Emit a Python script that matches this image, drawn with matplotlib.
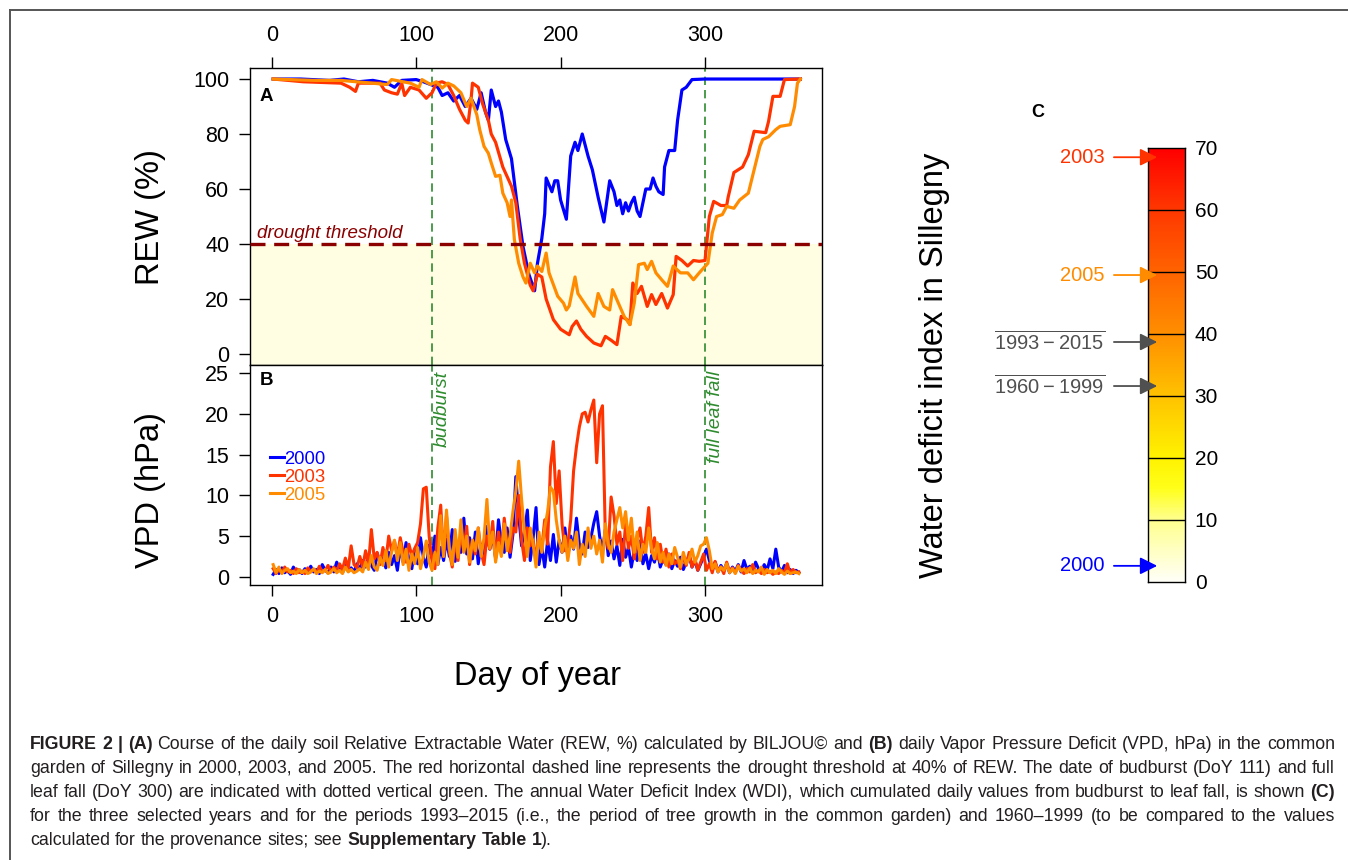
import math
import numpy as np
import matplotlib
matplotlib.use('Agg')
import matplotlib.pyplot as plt
from matplotlib.colors import LinearSegmentedColormap
from matplotlib.font_manager import FontProperties
from matplotlib.lines import Line2D

plt.rcParams['font.family'] = ['Liberation Sans', 'DejaVu Sans']
plt.rcParams['mathtext.fontset'] = 'custom'
plt.rcParams['mathtext.rm'] = 'Liberation Sans'

# ---- data ----
years = ['2000', '2003', '2005']
year_colors = {'2000': '#0000FF', '2003': '#FF3300', '2005': '#FF8C00'}

# soil relative extractable water (REW, %), (day of year, value)
rew_2000 = [(1, 100), (20, 100), (40, 99.5), (50, 100), (60, 99), (70, 99.5), (80, 98.5), (85, 97),
            (90, 99.5), (100, 99.8), (105, 99), (110, 98), (115, 97), (118, 94), (122, 95), (126, 92),
            (130, 94), (134, 90), (138, 93), (142, 89), (145, 95), (148, 88), (150, 85), (152, 96),
            (155, 90), (157, 92), (159, 88), (162, 78), (166, 71), (170, 54), (174, 39), (178, 29),
            (182, 23), (184, 33), (186, 39), (187, 42), (189, 51), (190, 64), (194, 59), (196, 63),
            (198, 63), (200, 56), (204, 49), (207, 72), (210, 77), (212, 74), (215, 80), (219, 72),
            (222, 67), (226, 57), (230, 48), (234, 63), (237, 59), (239, 54), (241, 56), (243, 51),
            (245, 55), (247, 52), (249, 55), (251, 57), (253, 52), (255, 50), (257, 55), (259, 60),
            (262, 60), (264, 64), (266, 61), (268, 59), (271, 58), (272, 68), (275, 74), (279, 74),
            (281, 85), (284, 96), (287, 97), (291, 99.8), (300, 100), (366, 100)]
rew_2003 = [(1, 100), (22, 99), (48, 98.5), (54, 97), (58, 95.5), (60, 98.5), (75, 98.5), (78, 96),
            (83, 95), (87, 94.5), (90, 98.5), (92, 94), (96, 97), (102, 96), (107, 93), (111, 95),
            (114, 98.5), (118, 99), (122, 98), (126, 94), (130, 89), (134, 85), (136, 84), (138, 92.5),
            (139, 98.5), (143, 97), (146, 91), (150, 85), (152, 80), (155, 77), (160, 68), (166, 61),
            (169, 55), (172, 42), (175, 33), (179, 25), (181, 23), (184, 29), (187, 28), (190, 20),
            (195, 12.5), (200, 9), (206, 7), (208, 10), (211, 12), (214, 9), (218, 6.4), (223, 4),
            (228, 3), (231, 6.4), (235, 5), (239, 3.4), (242, 13.7), (246, 12.5), (248, 10.7),
            (250, 25.8), (253, 22), (256, 24.6), (260, 17.3), (263, 21.6), (266, 18), (270, 22),
            (274, 16.7), (278, 21.6), (280, 35.5), (284, 34), (288, 32), (292, 34), (296, 33.7),
            (300, 34), (303, 50), (306, 55.5), (311, 54), (315, 54), (316, 57), (320, 66), (326, 68),
            (330, 72.5), (334, 81), (342, 80.5), (344, 84.6), (347, 93.7), (352, 93.7), (355, 99.8),
            (366, 100)]
rew_2005 = [(1, 100), (30, 99.5), (48, 99.5), (80, 98), (83, 99.8), (96, 98.5), (102, 97), (104, 99.8),
            (110, 98), (114, 99), (118, 96.7), (122, 98.5), (126, 97.5), (131, 95), (135, 90), (138, 93),
            (142, 87), (144, 81.6), (147, 75.5), (150, 73), (152, 69.5), (155, 64.6), (158, 65),
            (160, 58.5), (163, 55), (165, 50), (166, 56), (168, 41.6), (171, 33), (174, 28), (176, 25.8),
            (179, 33), (182, 29.5), (184, 32), (187, 30), (190, 36.7), (192, 29.5), (198, 21), (202, 18.5),
            (204, 16), (206, 17.5), (210, 28), (212, 22), (218, 17.3), (223, 13.7), (226, 22), (230, 17.3),
            (234, 16), (236, 23.4), (240, 18.5), (244, 13.7), (248, 10.7), (251, 18.5), (254, 32.5),
            (258, 33), (260, 30.7), (263, 33.7), (266, 29.5), (270, 27), (274, 24.6), (278, 32),
            (283, 29.5), (288, 29.5), (292, 27), (296, 29.5), (302, 33), (305, 44), (308, 50),
            (312, 50.7), (315, 53.7), (320, 53), (324, 56), (330, 58.5), (334, 67), (338, 75.5),
            (340, 78), (344, 79), (349, 81.6), (352, 82.8), (359, 83.4), (362, 90), (364, 98.5), (366, 100)]
rew = {'2000': rew_2000, '2003': rew_2003, '2005': rew_2005}

# vapour pressure deficit (hPa), one value every second day starting at day 1
vpd_days = list(range(1, 366, 2))
vpd_2000 = [0.3, 0.9, 0.4, 1.1, 0.5, 0.8, 0.3, 1.2, 0.6, 0.9,
            0.4, 1.0, 0.5, 1.3, 0.6, 0.9, 0.4, 1.5, 0.8, 0.5,
            1.2, 0.6, 1.8, 0.9, 0.5, 1.4, 0.7, 1.1, 0.6, 1.6,
            0.9, 2.0, 1.2, 2.6, 1.4, 0.8, 2.9, 1.6, 2.3, 1.1,
            3.0, 1.5, 2.6, 0.8, 3.6, 1.8, 4.2, 2.0, 1.0, 3.3,
            1.6, 4.8, 2.4, 1.2, 3.9, 2.2, 5.0, 1.5, 3.6, 2.0,
            4.6, 2.5, 5.8, 1.9, 4.2, 3.0, 7.2, 2.8, 4.8, 2.2,
            5.5, 1.6, 4.0, 2.6, 6.2, 3.4, 5.0, 2.3, 7.0, 4.2,
            3.0, 6.0, 2.4, 5.2, 12.3, 7.5, 3.8, 5.6, 8.2, 2.0,
            4.8, 8.5, 1.5, 3.6, 1.2, 4.4, 2.0, 5.2, 1.8, 4.5,
            3.0, 6.0, 2.5, 5.0, 3.4, 7.2, 4.0, 2.8, 5.5, 3.6,
            4.8, 6.6, 8.0, 5.0, 3.2, 5.8, 2.6, 4.4, 2.2, 3.8,
            1.4, 4.6, 2.4, 3.6, 1.2, 3.2, 2.0, 4.4, 1.6, 2.8,
            1.0, 2.6, 1.8, 3.4, 1.2, 2.2, 1.5, 2.8, 1.0, 2.0,
            1.3, 2.4, 0.9, 1.8, 2.6, 1.2, 2.0, 0.8, 1.6, 2.5,
            3.4, 2.0, 1.0, 1.8, 0.6, 1.4, 0.8, 1.6, 0.5, 1.2,
            0.7, 1.5, 0.6, 2.0, 0.9, 1.3, 0.5, 1.8, 1.0, 0.6,
            1.5, 0.8, 2.2, 1.0, 3.4, 1.2, 0.6, 1.4, 0.5, 0.9,
            0.4, 0.8, 0.5]
vpd_2003 = [1.0, 0.4, 0.9, 0.5, 1.2, 0.6, 0.8, 0.4, 1.0, 0.5,
            0.7, 0.4, 1.1, 0.6, 0.9, 0.5, 1.3, 0.6, 0.8, 1.4,
            0.6, 1.2, 0.7, 1.6, 0.9, 2.3, 1.0, 3.8, 1.5, 1.1,
            2.5, 1.2, 3.2, 1.6, 5.8, 2.2, 3.0, 1.5, 3.6, 2.0,
            5.0, 3.2, 4.4, 2.5, 4.8, 3.0, 1.8, 4.0, 2.6, 3.5,
            4.2, 6.5, 10.8, 11.0, 5.0, 2.0, 1.0, 6.0, 8.8, 2.5,
            7.5, 3.0, 1.2, 4.8, 2.0, 5.5, 3.2, 6.2, 1.5, 4.5,
            2.8, 6.0, 3.0, 1.5, 5.0, 3.4, 6.8, 2.2, 5.5, 3.0,
            7.2, 4.0, 3.0, 6.0, 5.5, 10.0, 4.5, 2.0, 6.0, 3.8,
            4.5, 2.2, 5.0, 3.5, 7.0, 4.0, 13.5, 16.6, 9.0, 13.0,
            6.5, 3.2, 4.0, 7.0, 13.0, 16.0, 18.4, 20.0, 20.2, 19.0,
            20.5, 21.7, 14.0, 20.0, 21.0, 5.0, 3.5, 9.8, 7.5, 4.0,
            5.5, 2.0, 6.5, 3.5, 5.0, 2.2, 4.5, 6.0, 3.0, 5.0,
            8.5, 3.0, 4.8, 2.2, 4.0, 1.8, 3.4, 1.2, 2.8, 1.6,
            2.0, 1.0, 2.6, 1.4, 3.0, 1.2, 2.2, 0.8, 1.8, 2.8,
            0.8, 1.6, 0.5, 1.9, 0.7, 1.2, 0.4, 1.8, 0.6, 1.1,
            0.5, 1.4, 0.8, 0.4, 1.0, 0.6, 1.5, 0.5, 0.8, 0.4,
            0.9, 0.5, 0.7, 0.3, 0.6, 0.4, 0.8, 0.5, 1.6, 0.4,
            0.9, 0.5, 0.6]
vpd_2005 = [1.5, 0.5, 1.2, 0.4, 0.8, 1.0, 0.5, 0.7, 0.4, 0.9,
            0.5, 0.8, 0.4, 0.6, 1.0, 0.4, 0.7, 0.5, 0.9, 0.4,
            0.6, 1.0, 0.5, 0.8, 0.4, 1.2, 0.6, 0.9, 0.5, 0.7,
            1.0, 0.6, 1.8, 0.9, 2.6, 1.2, 0.8, 2.4, 1.4, 3.2,
            1.2, 3.0, 4.5, 2.0, 4.2, 1.5, 3.4, 0.8, 2.8, 1.6,
            3.6, 1.0, 2.5, 4.4, 1.8, 0.8, 3.0, 1.5, 7.5, 2.5,
            8.2, 3.5, 1.5, 5.8, 2.4, 7.0, 3.0, 5.0, 1.8, 4.5,
            3.2, 6.0, 2.5, 4.8, 9.5, 3.5, 5.5, 1.8, 4.2, 2.5,
            6.5, 3.2, 5.0, 8.0, 10.5, 14.2, 9.5, 5.5, 2.5, 6.0,
            4.0, 1.2, 5.5, 3.0, 6.0, 8.0, 11.0, 10.5, 7.0, 4.5,
            3.0, 5.0, 2.0, 4.5, 3.5, 5.5, 1.5, 4.0, 2.5, 6.0,
            3.5, 5.0, 2.8, 4.5, 1.8, 6.5, 4.0, 3.0, 5.5, 7.0,
            8.5, 6.0, 8.0, 4.5, 7.2, 3.0, 5.5, 2.0, 4.0, 3.0,
            6.0, 3.5, 2.2, 4.2, 1.8, 3.0, 1.4, 2.8, 1.6, 3.6,
            2.4, 1.2, 3.0, 1.6, 2.2, 3.4, 1.8, 2.6, 3.8, 4.0,
            4.8, 3.2, 1.0, 1.6, 0.6, 1.2, 0.8, 1.6, 0.5, 1.0,
            0.4, 1.3, 0.7, 1.0, 0.5, 1.1, 0.4, 0.8, 0.6, 1.2,
            0.3, 0.9, 0.5, 0.8, 0.4, 1.0, 0.6, 0.3, 0.7, 0.4,
            0.5, 0.6, 0.4]
vpd = {'2000': vpd_2000, '2003': vpd_2003, '2005': vpd_2005}

drought_threshold = 40
budburst_doy = 111
leaf_fall_doy = 300

# water deficit index (panel C)
wdi_labels = ['2003', '2005', r'$\overline{\mathrm{1993-2015}}$', r'$\overline{\mathrm{1960-1999}}$', '2000']
wdi_values = [68.5, 49.5, 38.7, 31.6, 2.6]
wdi_colors = ['#FF3300', '#FF8C00', '#505050', '#505050', '#0000FF']
wdi_ticks = [0, 10, 20, 30, 40, 50, 60, 70]

caption = [
    [('FIGURE 2 | (A)', True),
     (' Course of the daily soil Relative Extractable Water (REW, %) calculated by BILJOU\u00a9 and ', False),
     ('(B)', True),
     (' daily Vapor Pressure Deficit (VPD, hPa) in the common', False)],
    [('garden of Sillegny in 2000, 2003, and 2005. The red horizontal dashed line represents the drought '
      'threshold at 40% of REW. The date of budburst (DoY 111) and full', False)],
    [('leaf fall (DoY 300) are indicated with dotted vertical green. The annual Water Deficit Index (WDI), '
      'which cumulated daily values from budburst to leaf fall, is shown ', False),
     ('(C)', True)],
    [('for the three selected years and for the periods 1993\u20132015 (i.e., the period of tree growth in the '
      'common garden) and 1960\u20131999 (to be compared to the values', False)],
    [('calculated for the provenance sites; see ', False), ('Supplementary Table 1', True), (').', False)],
]

green = '#2E8B2E'
dark_red = '#8B0000'
tick_size = 15.5
label_size = 23.5

fig = plt.figure(figsize=(13.48, 8.6), dpi=100)

# frame around the figure (top and left edges)
fig.add_artist(Line2D([0.0074, 1.0], [0.9884, 0.9884], color='#555555', lw=1.4))
fig.add_artist(Line2D([0.0074, 0.0074], [0.0, 0.9884], color='#555555', lw=1.4))

axA = fig.add_axes([0.1855, 0.5756, 0.4243, 0.3453])
axB = fig.add_axes([0.1855, 0.3198, 0.4243, 0.2558])

for ax in (axA, axB):
    ax.set_xlim(-15, 381)
    ax.set_xticks([0, 100, 200, 300])
    ax.tick_params(direction='out', length=8, width=1, labelsize=tick_size, pad=7)
    for sp in ax.spines.values():
        sp.set_linewidth(1)
    ax.axvline(budburst_doy, color=green, ls=(0, (5, 3)), lw=1.2, zorder=1)
    ax.axvline(leaf_fall_doy, color=green, ls=(0, (5, 3)), lw=1.2, zorder=1)

# panel A
axA.set_ylim(-4, 104)
axA.set_yticks([0, 20, 40, 60, 80, 100])
axA.xaxis.tick_top()
axA.tick_params(axis='x', pad=7.5)
axA.axhspan(-4, drought_threshold, color='#FFFDE2', zorder=0, lw=0)
axA.axhline(drought_threshold, color=dark_red, lw=2.4, dashes=(4.5, 2.6), zorder=5)
axA.text(0.013, drought_threshold + 0.8, 'drought threshold', transform=axA.get_yaxis_transform(),
         color=dark_red, style='italic', fontsize=13.5, ha='left', va='bottom')
for y in years:
    d, v = zip(*rew[y])
    axA.plot(d, v, color=year_colors[y], lw=2.3, zorder=3)
axA.text(0.017, 0.905, 'A', transform=axA.transAxes, fontsize=13.5, fontweight='bold', va='center')

# panel B
axB.set_ylim(-1, 26)
axB.set_yticks([0, 5, 10, 15, 20, 25])
for y in years:
    axB.plot(vpd_days, vpd[y], color=year_colors[y], lw=2.2, label=y, zorder=3)
axB.text(0.017, 0.93, 'B', transform=axB.transAxes, fontsize=13.5, fontweight='bold', va='center')
leg = axB.legend(loc='upper left', bbox_to_anchor=(0.035, 0.61), frameon=False, fontsize=13.3,
                 handlelength=0.75, handletextpad=0.0, labelspacing=0.05, borderpad=0, borderaxespad=0)
for txt, y in zip(leg.get_texts(), years):
    txt.set_color(year_colors[y])
axB.text(budburst_doy + 1.5, 25.3, 'budburst', rotation=90, color=green, style='italic',
         fontsize=14, ha='left', va='top')
axB.text(leaf_fall_doy + 1.5, 25.3, 'full leaf fall', rotation=90, color=green, style='italic',
         fontsize=14, ha='left', va='top')

fig.text(0.1113, 0.748, 'REW (%)', rotation=90, fontsize=label_size, ha='center', va='center')
fig.text(0.1113, 0.430, 'VPD (hPa)', rotation=90, fontsize=label_size, ha='center', va='center')
fig.text(0.399, 0.2128, 'Day of year', fontsize=label_size, ha='center', va='center')

# panel C: colour scale of the water deficit index
cmap = LinearSegmentedColormap.from_list('wdi', [
    (0.0, (1, 1, 0.97)), (10 / 70, (1, 1, 0.55)), (15 / 70, (1, 1, 0.1)), (20 / 70, (1, 0.95, 0)),
    (30 / 70, (1, 0.76, 0)), (40 / 70, (1, 0.56, 0)), (50 / 70, (1, 0.39, 0)), (60 / 70, (1, 0.22, 0)),
    (1.0, (1, 0, 0))])
cax = fig.add_axes([0.8516, 0.3233, 0.02745, 0.5047])
cax.imshow(np.linspace(0, 70, 400).reshape(-1, 1), origin='lower', extent=[0, 1, 0, 70],
           aspect='auto', cmap=cmap, vmin=0, vmax=70)
cax.set_xlim(0, 1)
cax.set_ylim(0, 70)
cax.hlines(wdi_ticks[1:-1], 0, 1, color='black', lw=1)
cax.set_xticks([])
cax.yaxis.tick_right()
cax.set_yticks(wdi_ticks)
cax.tick_params(axis='y', length=0, labelsize=15, pad=7)
for sp in cax.spines.values():
    sp.set_linewidth(1)
trans = cax.get_yaxis_transform()
for lab, val, col in zip(wdi_labels, wdi_values, wdi_colors):
    cax.annotate('', xy=(0.25, val), xytext=(-0.92, val), xycoords=trans, textcoords=trans,
                 arrowprops=dict(arrowstyle='-|>', color=col, lw=1.3, mutation_scale=26,
                                 shrinkA=0, shrinkB=0), annotation_clip=False)
    cax.text(-1.17, val, lab, transform=trans, color=col, fontsize=14.5, ha='right', va='center')
fig.text(0.770, 0.869, 'C', fontsize=13, fontweight='bold', ha='center', va='center')
fig.text(0.6936, 0.5756, 'Water deficit index in Sillegny', rotation=90, fontsize=label_size,
         ha='center', va='center')

# caption, justified over the width of the frame
renderer = fig.canvas.get_renderer()
W, H = fig.bbox.width, fig.bbox.height
x_left, x_right = 30 / 1348, 1335 / 1348
line_y = [749, 773, 797, 821, 845]   # baselines, pixels from the top


def measure(s, bold, size):
    t = fig.text(0, 0, s, fontsize=size, fontweight='bold' if bold else 'normal')
    w = t.get_window_extent(renderer).width / W
    t.remove()
    return w


def descent_shift(s, bold, size):
    # keep baselines on the same pixel row whatever glyphs the word holds
    prop = FontProperties(family=plt.rcParams['font.family'], size=size,
                          weight='bold' if bold else 'normal')
    _, _, d = renderer.get_text_width_height_descent(s, prop, ismath=False)
    return (d - math.floor(d)) / H


# font size chosen so that the plain second line just fills the width
cap_size = 12.0 * 0.99 * (x_right - x_left) / measure(caption[1][0][0], False, 12.0)
space_w = measure('a a', False, cap_size) - measure('aa', False, cap_size)

for i, segs in enumerate(caption):
    words = []
    prev_space = True
    for s, bold in segs:
        parts = s.split(' ')
        for j, p in enumerate(parts):
            if p == '':
                continue
            if j == 0 and words and not prev_space:
                words[-1].append((p, bold))
            else:
                words.append([(p, bold)])
        prev_space = s.endswith(' ')
    widths = [sum(measure(p, b, cap_size) for p, b in w) for w in words]
    last = i == len(caption) - 1
    gap = space_w if last else (x_right - x_left - sum(widths)) / (len(words) - 1)
    x = x_left
    yy = (H - line_y[i]) / H
    for w, ww in zip(words, widths):
        xx = x
        for p, b in w:
            fig.text(xx, yy + descent_shift(p, b, cap_size), p, fontsize=cap_size,
                     fontweight='bold' if b else 'normal', ha='left', va='baseline', color='#231F20')
            xx += measure(p, b, cap_size)
        x += ww + gap

fig.savefig('out.png', dpi=100)
